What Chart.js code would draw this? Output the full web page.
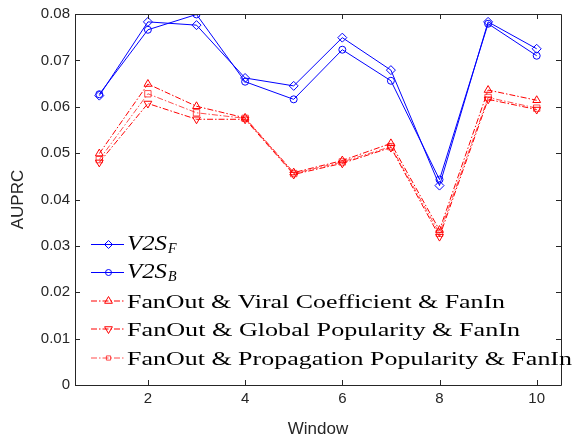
<!DOCTYPE html>
<html>
<head>
<meta charset="utf-8">
<script src="https://cdn.jsdelivr.net/npm/chart.js@4.4.0/dist/chart.umd.min.js"></script>
<style>
  html, body { margin: 0; padding: 0; background: #fff; }
  #wrap { width: 573px; height: 444px; position: relative; }
</style>
</head>
<body>
<div id="wrap"><canvas id="myChart"></canvas></div>
<script>
// data
const windows = [1, 2, 3, 4, 5, 6, 7, 8, 9, 10];
const v2sF = [0.0624, 0.0783, 0.0776, 0.0662, 0.0645, 0.0749, 0.0679, 0.0430, 0.0783, 0.0725];
const v2sB = [0.0627, 0.0766, 0.0799, 0.0654, 0.0616, 0.0723, 0.0656, 0.0443, 0.0779, 0.0710];
const viral = [0.0499, 0.0649, 0.0601, 0.0576, 0.0458, 0.0484, 0.0521, 0.0334, 0.0636, 0.0614];
const globalPop = [0.0480, 0.0607, 0.0573, 0.0573, 0.0454, 0.0478, 0.0512, 0.0320, 0.0616, 0.0594];
const propPop = [0.0486, 0.0628, 0.0587, 0.0575, 0.0456, 0.0481, 0.0514, 0.0327, 0.0620, 0.0597];
const xTicks = [2, 4, 6, 8, 10];

const blue = '#0000ff';
const red = '#ff0000';
const lightRed = 'rgba(255,0,0,0.7)';
const dashDot = [6, 2, 1.5, 2];

function pts(arr) {
    return windows.map((w, i) => ({ x: w, y: arr[i] }));
}

function series(label, arr, color, style, rot, dash) {
    return {
        label: label,
        data: pts(arr),
        borderColor: color,
        backgroundColor: 'rgba(0,0,0,0)',
        borderWidth: 1,
        borderDash: dash,
        pointStyle: style,
        pointRotation: rot,
        pointRadius: style === 'circle' ? 3.5 : 4.5,
        pointBorderWidth: 1,
        pointBorderColor: color,
        pointBackgroundColor: 'rgba(0,0,0,0)',
        tension: 0
    };
}

const data = {
    datasets: [
        series('V2S_F', v2sF, blue, 'rectRot', 0, []),
        series('V2S_B', v2sB, blue, 'circle', 0, []),
        series('FanOut & Viral Coefficient & FanIn', viral, red, 'triangle', 0, dashDot),
        series('FanOut & Global Popularity & FanIn', globalPop, red, 'triangle', 180, dashDot),
        series('FanOut & Propagation Popularity & FanIn', propPop, lightRed, 'rect', 0, dashDot)
    ]
};

// box + inward ticks like matlab
const boxPlugin = {
    id: 'box',
    afterDraw(chart) {
        const ctx = chart.ctx;
        const a = chart.chartArea;
        const xs = chart.scales.x, ys = chart.scales.y;
        ctx.save();
        ctx.strokeStyle = '#262626';
        ctx.lineWidth = 1;
        ctx.beginPath();
        ctx.rect(Math.round(a.left) + 0.5, Math.round(a.top) + 0.5,
            Math.round(a.right - a.left), Math.round(a.bottom - a.top));
        ctx.stroke();
        ctx.beginPath();
        xs.ticks.forEach(t => {
            const px = Math.round(xs.getPixelForValue(t.value)) + 0.5;
            ctx.moveTo(px, a.bottom); ctx.lineTo(px, a.bottom - 5);
            ctx.moveTo(px, a.top); ctx.lineTo(px, a.top + 5);
        });
        ys.ticks.forEach(t => {
            const py = Math.round(ys.getPixelForValue(t.value)) + 0.5;
            ctx.moveTo(a.left, py); ctx.lineTo(a.left + 5, py);
            ctx.moveTo(a.right, py); ctx.lineTo(a.right - 5, py);
        });
        ctx.stroke();
        ctx.restore();
    }
};

// legend with latex-ish labels
const legendColors = [blue, blue, red, red, lightRed];
const legendPlugin = {
    id: 'texLegend',
    afterDraw(chart) {
        const ctx = chart.ctx;
        const rows = [244.5, 272.5, 301, 329, 358];
        const sizes = [4, 3, 4.5, 4.5, 3];
        const x0 = 91, x1 = 124, xm = 108.5, tx = 127;
        chart.data.datasets.forEach((ds, i) => {
            const y = rows[i];
            const col = legendColors[i];
            ctx.save();
            ctx.lineWidth = 1;
            ctx.strokeStyle = col;
            ctx.setLineDash(ds.borderDash);
            ctx.beginPath();
            ctx.moveTo(x0, y);
            ctx.lineTo(x1, y);
            ctx.stroke();
            ctx.setLineDash([]);
            ctx.strokeStyle = col;
            ctx.fillStyle = 'rgba(0,0,0,0)';
            Chart.helpers.drawPoint(ctx, {
                pointStyle: ds.pointStyle,
                rotation: ds.pointRotation,
                radius: sizes[i],
                borderWidth: 1
            }, xm, y);
            ctx.restore();

            ctx.save();
            ctx.fillStyle = '#000';
            ctx.textBaseline = 'alphabetic';
            if (i < 2) {
                ctx.font = 'italic 21px "Liberation Serif"';
                const w0 = ctx.measureText('V2S').width;
                ctx.translate(tx, y + 5.5);
                ctx.scale(40 / w0, 1);
                ctx.fillText('V2S', 0, 0);
                ctx.setTransform(1, 0, 0, 1, 0, 0);
                ctx.font = 'italic 14px "Liberation Serif"';
                ctx.fillText(i === 0 ? 'F' : 'B', tx + 41, y + 8);
            } else {
                ctx.font = '18px "Liberation Serif"';
                const w = ctx.measureText(ds.label).width;
                const target = i === 2 ? 378 : (i === 3 ? 393 : 445);
                ctx.translate(tx, y + 7);
                ctx.scale(target / w, 1);
                ctx.fillText(ds.label, 0, 0);
            }
            ctx.restore();
        });
    }
};

const config = {
    type: 'line',
    data: data,
    options: {
        responsive: true,
        maintainAspectRatio: false,
        animation: false,
        layout: { padding: { left: 0, top: 13, right: 12, bottom: 0 } },
        scales: {
            x: {
                type: 'linear',
                min: 0.5,
                max: 10.5,
                afterBuildTicks: (scale) => {
                    scale.ticks = xTicks.map(v => ({ value: v }));
                },
                afterFit: (scale) => { scale.height = 59; },
                grid: { display: false, drawTicks: false },
                border: { display: false },
                ticks: {
                    color: '#262626',
                    font: { family: 'Liberation Sans', size: 15 },
                    padding: 5,
                    maxRotation: 0
                },
                title: {
                    display: true,
                    text: 'Window',
                    color: '#262626',
                    font: { family: 'Liberation Sans', size: 17 },
                    padding: { top: 2 }
                }
            },
            y: {
                min: 0,
                max: 0.08,
                afterFit: (scale) => { scale.width = 75; },
                grid: { display: false, drawTicks: false },
                border: { display: false },
                ticks: {
                    stepSize: 0.01,
                    color: '#262626',
                    font: { family: 'Liberation Sans', size: 15 },
                    padding: 5,
                    callback: (v) => Number(v.toFixed(2)).toString()
                },
                title: {
                    display: true,
                    text: 'AUPRC',
                    color: '#262626',
                    font: { family: 'Liberation Sans', size: 17 },
                    padding: { top: 8, bottom: 4 }
                }
            }
        },
        plugins: {
            legend: { display: false },
            tooltip: { enabled: false }
        }
    },
    plugins: [boxPlugin, legendPlugin]
};

const myChart = new Chart(document.getElementById('myChart'), config);
</script>
</body>
</html>
